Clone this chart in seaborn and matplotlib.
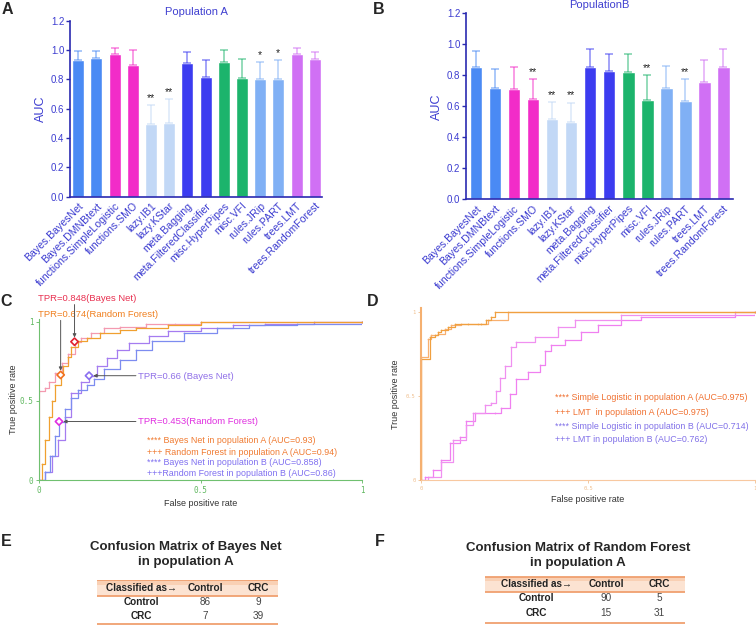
import numpy as np
import pandas as pd
import matplotlib
matplotlib.use("Agg")
import matplotlib.pyplot as plt
import seaborn as sns

sns.set_style("white")
plt.rcParams["font.family"] = ["Liberation Sans", "DejaVu Sans"]

# AUC per classifier (panels A, B)
classifiers = ["Bayes.BayesNet", "Bayes.DMNBtext", "functions.SimpleLogistic", "functions.SMO",
               "lazy.IB1", "lazy.KStar", "meta.Bagging", "meta.FilteredClassifier",
               "misc.HyperPipes", "misc.VFI", "rules.JRip", "rules.PART",
               "trees.LMT", "trees.RandomForest"]
auc_a = [0.93, 0.943, 0.975, 0.898, 0.495, 0.50, 0.909, 0.814, 0.918, 0.811, 0.802, 0.802, 0.975, 0.941]
upper_a = [0.993, 0.995, 1.016, 0.998, 0.625, 0.664, 0.986, 0.93, 0.998, 0.939, 0.916, 0.932, 1.016, 0.989]
stars_a = ["", "", "", "", "**", "**", "", "", "", "", "*", "*", "", ""]
auc_b = [0.853, 0.72, 0.709, 0.644, 0.517, 0.50, 0.851, 0.827, 0.819, 0.642, 0.715, 0.633, 0.756, 0.855]
upper_b = [0.957, 0.843, 0.853, 0.776, 0.627, 0.622, 0.97, 0.937, 0.94, 0.80, 0.858, 0.773, 0.90, 0.968]
stars_b = ["", "", "", "**", "**", "**", "", "", "", "**", "", "**", "", ""]

# ROC curves panel C
bn_a_fpr = [0, 0, 0.02, 0.03, 0.05, 0.07, 0.09, 0.11, 0.13, 0.16, 0.2, 0.25, 0.33, 0.42, 0.5, 1.0]
bn_a_tpr = [0, 0.56, 0.58, 0.62, 0.68, 0.74, 0.8, 0.875, 0.9, 0.93, 0.96, 0.97, 0.985, 0.99, 1.0, 1.0]
rf_a_fpr = [0, 0.01, 0.02, 0.03, 0.04, 0.05, 0.067, 0.075, 0.09, 0.1, 0.12, 0.15, 0.19, 0.25, 0.3, 0.4, 0.5, 1.0]
rf_a_tpr = [0, 0.1, 0.25, 0.4, 0.5, 0.6, 0.665, 0.72, 0.78, 0.84, 0.88, 0.9, 0.93, 0.95, 0.96, 0.98, 1.0, 1.0]
bn_b_fpr = [0, 0.02, 0.04, 0.06, 0.08, 0.1, 0.13, 0.155, 0.18, 0.21, 0.24, 0.28, 0.34, 0.4, 0.5, 0.6, 0.7, 0.85, 1.0]
bn_b_tpr = [0, 0.05, 0.15, 0.25, 0.4, 0.55, 0.62, 0.66, 0.72, 0.77, 0.82, 0.87, 0.91, 0.94, 0.96, 0.98, 0.99, 1.0, 1.0]
rf_b_fpr = [0, 0.02, 0.035, 0.05, 0.062, 0.08, 0.1, 0.12, 0.15, 0.17, 0.2, 0.25, 0.3, 0.35, 0.45, 0.55, 0.65, 0.8, 1.0]
rf_b_tpr = [0, 0.05, 0.15, 0.28, 0.37, 0.45, 0.52, 0.57, 0.6, 0.64, 0.7, 0.76, 0.82, 0.88, 0.93, 0.96, 0.98, 0.99, 1.0]
cut_fpr = [0.11, 0.067, 0.155, 0.062]
cut_tpr = [0.875, 0.665, 0.66, 0.37]
cut_labels = ["TPR=0.848(Bayes Net)", "TPR=0.674(Random Forest)", "TPR=0.66 (Bayes Net)", "TPR=0.453(Random Forest)"]
legend_c = ["**** Bayes Net in population A (AUC=0.93)", "+++ Random Forest in population A (AUC=0.94)",
            "**** Bayes Net in population B (AUC=0.858)", "+++Random Forest in population B (AUC=0.86)"]

# ROC curves panel D
sl_a_fpr = [0, 0, 0.025, 0.04, 0.05, 0.06, 0.08, 0.1, 0.14, 0.18, 0.195, 0.21, 0.22, 1.0]
sl_a_tpr = [0, 0.72, 0.85, 0.86, 0.88, 0.89, 0.91, 0.93, 0.93, 0.93, 0.95, 0.97, 1.0, 1.0]
lmt_a_fpr = [0, 0, 0.02, 0.03, 0.05, 0.07, 0.09, 0.12, 0.17, 0.2, 0.26, 1.0]
lmt_a_tpr = [0, 0.73, 0.84, 0.86, 0.87, 0.9, 0.92, 0.93, 0.93, 0.95, 1.0, 1.0]
lmt_b_fpr = [0, 0.02, 0.06, 0.095, 0.135, 0.155, 0.19, 0.21, 0.225, 0.235, 0.25, 0.27, 0.285, 0.34, 0.41, 0.46, 0.6, 0.94, 1.0]
lmt_b_tpr = [0, 0.02, 0.11, 0.24, 0.33, 0.40, 0.45, 0.46, 0.53, 0.61, 0.68, 0.79, 0.82, 0.85, 0.91, 0.95, 0.98, 1.0, 1.0]
sl_b_fpr = [0, 0.01, 0.035, 0.06, 0.085, 0.115, 0.135, 0.16, 0.22, 0.24, 0.265, 0.285, 0.32, 0.355, 0.37, 0.39, 0.43, 0.48, 0.53, 0.6, 0.66, 0.94, 1.0]
sl_b_tpr = [0, 0.02, 0.06, 0.12, 0.22, 0.26, 0.35, 0.40, 0.40, 0.43, 0.51, 0.60, 0.645, 0.685, 0.77, 0.80, 0.83, 0.88, 0.92, 0.95, 0.97, 0.98, 1.0]
legend_d = ["**** Simple Logistic in population A (AUC=0.975)", "+++ LMT  in population A (AUC=0.975)",
            "**** Simple Logistic in population B (AUC=0.714)", "+++ LMT in population B (AUC=0.762)"]

# confusion matrices (E, F)
table_cols = ["Classified as\u2192", "Control", "CRC"]
table_rows = ["Control", "CRC"]
cm_bayes = [[86, 9], [7, 39]]
cm_rf = [[90, 5], [15, 31]]

bar_colors = ["#4a8af4", "#4a8af4", "#f22cc8", "#f22cc8", "#c2d8f6", "#c2d8f6", "#3c3cf0",
              "#3c3cf0", "#1cb46c", "#1cb46c", "#80b0f5", "#80b0f5", "#d070f4", "#d070f4"]
blue_txt = "#3c3cd0"
axis_blue = "#2a2ab0"


def auc_panel(ax, auc, upper, stars, title, xlim):
    df = pd.DataFrame({"clf": classifiers, "auc": auc})
    sns.barplot(data=df, x="clf", y="auc", hue="clf", palette=bar_colors, legend=False,
                width=0.66, saturation=1, ax=ax)
    for i, (v, u, s) in enumerate(zip(auc, upper, stars)):
        ax.errorbar(i, v, yerr=[[0], [u - v]], color=bar_colors[i], alpha=0.55,
                    capsize=3, lw=1.2, capthick=1.2)
        if s:
            ax.text(i, u + 0.015, s, ha="center", va="bottom", fontsize=7.5, color="#222222")
    ax.set_xlim(*xlim)
    ax.set_ylim(0, 1.2)
    ax.set_yticks(np.arange(0, 1.21, 0.2))
    ax.set_yticklabels([f"{t:.1f}" for t in np.arange(0, 1.21, 0.2)], fontsize=7, color=blue_txt)
    ax.set_xticks(range(len(classifiers)))
    ax.set_xticklabels(classifiers, rotation=45, ha="right", rotation_mode="anchor",
                       fontsize=7.6, color=blue_txt)
    ax.tick_params(axis="y", length=3, width=1, color=axis_blue, pad=1, left=True)
    ax.tick_params(axis="x", length=0, pad=3)
    sns.despine(ax=ax)
    for sp in ["left", "bottom"]:
        ax.spines[sp].set_color(axis_blue)
        ax.spines[sp].set_linewidth(1.2)
    ax.set_xlabel("")
    ax.set_ylabel("AUC", fontsize=9, color=blue_txt, labelpad=3)
    ax.set_title(title, fontsize=8, color="#4040d0", pad=4)


def roc_panel(ax, curves, spine_color, tick_color, tick_size, ypad):
    for fpr, tpr, color in curves:
        sns.lineplot(x=fpr, y=tpr, ax=ax, estimator=None, sort=False, drawstyle="steps-post",
                     color=color, lw=0.9, marker=".", markersize=2.5, markeredgewidth=0)
    ax.set_xlim(0, 1)
    ax.set_ylim(0, 1.02)
    ax.set_xticks([0, 0.5, 1])
    ax.set_yticks([0, 0.5, 1])
    ax.set_xticklabels(["0", "0.5", "1"], family="DejaVu Sans Mono", fontsize=tick_size, color=tick_color)
    ax.set_yticklabels(["0", "0.5", "1"], family="DejaVu Sans Mono", fontsize=tick_size, color=tick_color)
    ax.tick_params(length=2, width=0.6, color=tick_color, pad=2, left=True, bottom=True)
    sns.despine(ax=ax)
    for sp in ["left", "bottom"]:
        ax.spines[sp].set_color(spine_color)
    ax.set_xlabel("False positive rate", fontsize=6.5, color="#333333", labelpad=3)
    ax.set_ylabel("True positive rate", fontsize=6.5, color="#333333", labelpad=ypad)


def table_panel(ax, cm, col_x, band, bottom):
    ax.set_xlim(0, 1)
    ax.set_ylim(bottom + 0.2, -0.6)
    ax.axis("off")
    ax.axhspan(-band, band, color="#fce3d2", lw=0)
    ax.axhspan(-band, -band * 0.4, color="#f9d0b4", lw=0)
    for y in [-band, band, bottom]:
        ax.axhline(y, color="#f0a070", lw=1.3)
    for x, h in zip(col_x, table_cols):
        ax.text(x, 0, h, ha="center", va="center", fontsize=7.2, weight="bold", color="#222222")
    for r, (name, vals) in enumerate(zip(table_rows, cm), start=1):
        ax.text(col_x[0], r, name, ha="center", va="center", fontsize=7.2, weight="bold", color="#222222")
        for x, v in zip(col_x[1:], vals):
            ax.text(x, r, str(v), ha="center", va="center", fontsize=7.2, color="#444444")


fig = plt.figure(figsize=(7.56, 6.27), dpi=100)
W, H = 756, 627


def px_axes(x0, y0, x1, y1):
    return fig.add_axes([x0 / W, 1 - y1 / H, (x1 - x0) / W, (y1 - y0) / H])


ax_a = px_axes(70, 20.7, 322, 196.7)
auc_panel(ax_a, auc_a, upper_a, stars_a, "Population A", (-0.45, 13.4))
ax_b = px_axes(466, 13.3, 733, 199.3)
auc_panel(ax_b, auc_b, upper_b, stars_b, "PopulationB", (-0.52, 13.5))

# panel C
ax_c = px_axes(39, 318.8, 362, 480)
roc_panel(ax_c, [(bn_b_fpr, bn_b_tpr, "#a57cf0"), (rf_b_fpr, rf_b_tpr, "#7d8cf0"),
                 (bn_a_fpr, bn_a_tpr, "#f49ab0"), (rf_a_fpr, rf_a_tpr, "#f0a030")],
          "#70c070", "#60b860", 5.5, 1)
cut_colors = ["#e02030", "#f07020", "#8a6ff0", "#e030e0"]
label_colors = ["#e83050", "#f08020", "#9070e8", "#e030e0"]
sns.scatterplot(x=cut_fpr, y=cut_tpr, ax=ax_c, marker="D", s=14, facecolor="white",
                edgecolor=cut_colors, linewidth=1.2, zorder=5)
arrow = dict(arrowstyle="-|>", color="#555555", lw=0.7, mutation_scale=5, shrinkA=0, shrinkB=3)
ax_c.text(-0.003, 1.146, cut_labels[0], color=label_colors[0], fontsize=6.8, va="center", clip_on=False)
ax_c.text(-0.003, 1.05, cut_labels[1], color=label_colors[1], fontsize=6.8, va="center", clip_on=False)
ax_c.annotate("", xy=(cut_fpr[0], cut_tpr[0]), xytext=(cut_fpr[0], 1.11), arrowprops=arrow, annotation_clip=False)
ax_c.annotate("", xy=(cut_fpr[1], cut_tpr[1]), xytext=(cut_fpr[1], 1.01), arrowprops=arrow, annotation_clip=False)
ax_c.text(0.306, 0.652, cut_labels[2], color=label_colors[2], fontsize=6.8, va="center")
ax_c.text(0.306, 0.373, cut_labels[3], color=label_colors[3], fontsize=6.8, va="center")
ax_c.annotate("", xy=(cut_fpr[2], cut_tpr[2]), xytext=(0.30, cut_tpr[2]), arrowprops=arrow)
ax_c.annotate("", xy=(cut_fpr[3], cut_tpr[3]), xytext=(0.30, cut_tpr[3]), arrowprops=arrow)
for txt, y, c in zip(legend_c, [0.247, 0.177, 0.108, 0.038], ["#f07a30", "#f07a30", "#7f6ff0", "#7f6ff0"]):
    ax_c.text(0.334, y, txt, color=c, fontsize=6.4, va="center")

# panel D
ax_d = px_axes(421.3, 308.4, 754.7, 480.4)
roc_panel(ax_d, [(sl_b_fpr, sl_b_tpr, "#f080f0"), (lmt_b_fpr, lmt_b_tpr, "#f090f0"),
                 (lmt_a_fpr, lmt_a_tpr, "#f8b070"), (sl_a_fpr, sl_a_tpr, "#f0a040")],
          "#f5b070", "#f0c090", 4, 4)
ax_d.spines["left"].set_linewidth(1.5)
ax_d.spines["bottom"].set_color("#f8c8a0")
for txt, y, c in zip(legend_d, [0.49, 0.40, 0.32, 0.24], ["#f07030", "#f07030", "#8070e8", "#8070e8"]):
    ax_d.text(0.40, y, txt, color=c, fontsize=6.4, va="center")

# panels E, F
ax_e = px_axes(97, 579.8, 278, 626.7)
table_panel(ax_e, cm_bayes, [0.247, 0.60, 0.89], 0.58, 2.57)
ax_f = px_axes(484.7, 575.5, 684.7, 626.2)
table_panel(ax_f, cm_rf, [0.258, 0.608, 0.875], 0.52, 2.74)
fig.text(185.8 / W, 1 - 547.3 / H, "Confusion Matrix of Bayes Net", ha="center", va="center",
         fontsize=9.5, weight="bold")
fig.text(185.8 / W, 1 - 561.7 / H, "in population A", ha="center", va="center", fontsize=9.5, weight="bold")
fig.text(578 / W, 1 - 547.7 / H, "Confusion Matrix of Random Forest", ha="center", va="center",
         fontsize=9.5, weight="bold")
fig.text(578 / W, 1 - 563.3 / H, "in population A", ha="center", va="center", fontsize=9.5, weight="bold")

for letter, x, y in [("A", 2, 10), ("B", 373, 10), ("C", 0, 302), ("D", 367, 302), ("E", 1, 542), ("F", 375, 542)]:
    fig.text(x / W, 1 - y / H, letter, fontsize=11.5, weight="bold", va="center", ha="left")

fig.savefig("out.png", dpi=100)
